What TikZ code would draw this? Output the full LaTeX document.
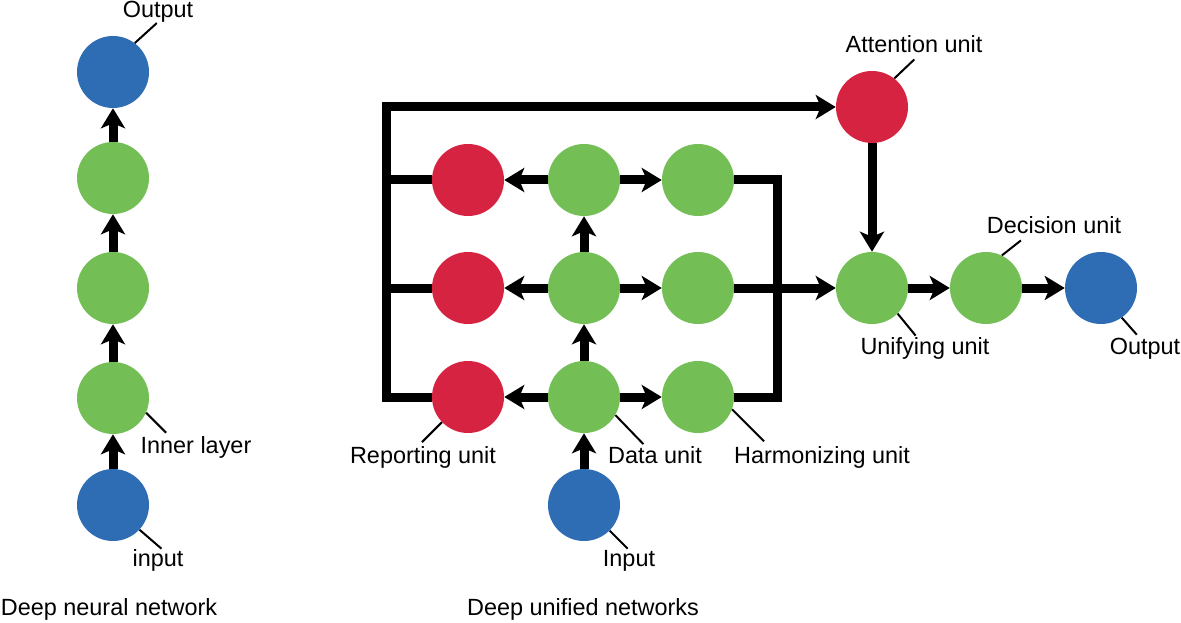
\documentclass[tikz,border=0pt]{standalone}
\usepackage{fontspec}
\setmainfont{Liberation Sans}
\usetikzlibrary{arrows.meta}

\definecolor{unitBlue}{RGB}{46,109,180}
\definecolor{unitGreen}{RGB}{115,190,85}
\definecolor{unitRed}{RGB}{214,35,66}

\tikzset{
	unit/.style={circle, minimum size=2.16cm, inner sep=0pt},
	blueUnit/.style={unit, fill=unitBlue},
	greenUnit/.style={unit, fill=unitGreen},
	redUnit/.style={unit, fill=unitRed},
	wire/.style={line width=0.27cm, line join=miter},
	flow/.style={wire, -{Stealth[length=0.6cm,width=0.72cm,inset=0.15cm]}},
	tick/.style={line width=0.06cm},
	lbl/.style={font=\fontsize{20}{24}\selectfont, anchor=base, inner sep=0pt},
}

\begin{document}
\begin{tikzpicture}[x=0.03cm, y=-0.03cm]
		\useasboundingbox (0,0) rectangle (1181,623);

		% deep neural network
		\node at (113,72)[blueUnit] (dnnOut) {};
		\node at (113,178)[greenUnit] (dnnL3) {};
		\node at (113,288)[greenUnit] (dnnL2) {};
		\node at (113,398)[greenUnit] (dnnL1) {};
		\node at (113,505)[blueUnit] (dnnIn) {};

		\draw[flow] (dnnIn) -- (dnnL1);
		\draw[flow] (dnnL1) -- (dnnL2);
		\draw[flow] (dnnL2) -- (dnnL3);
		\draw[flow] (dnnL3) -- (dnnOut);

		% deep unified networks
		\node at (468,180)[redUnit] (rep1) {};
		\node at (468,288)[redUnit] (rep2) {};
		\node at (468,397)[redUnit] (rep3) {};
		\node at (584,180)[greenUnit] (dat1) {};
		\node at (584,288)[greenUnit] (dat2) {};
		\node at (584,397)[greenUnit] (dat3) {};
		\node at (698,180)[greenUnit] (harm1) {};
		\node at (698,288)[greenUnit] (harm2) {};
		\node at (698,397)[greenUnit] (harm3) {};
		\node at (584,505)[blueUnit] (dunIn) {};
		\node at (872,107)[redUnit] (att) {};
		\node at (872,288)[greenUnit] (uni) {};
		\node at (986,288)[greenUnit] (dec) {};
		\node at (1101,288)[blueUnit] (dunOut) {};

		\coordinate (frameL) at (386,107);
		\coordinate (frameR) at (777,288);

		\draw[flow] (rep3.west) -| (frameL) -- (att.west);
		\draw[wire] (rep1.west) -- (rep1.west -| frameL);
		\draw[wire] (rep2.west) -- (rep2.west -| frameL);
		\draw[wire] (harm1.east) -| (frameR) |- (harm3.east);

		\foreach \row in {1,2,3}{
			\draw[flow] (dat\row) -- (rep\row);
			\draw[flow] (dat\row) -- (harm\row);
		}
		\draw[flow] (dunIn) -- (dat3);
		\draw[flow] (dat3) -- (dat2);
		\draw[flow] (dat2) -- (dat1);
		\draw[flow] (harm2) -- (uni);
		\draw[flow] (att) -- (uni);
		\draw[flow] (uni) -- (dec);
		\draw[flow] (dec) -- (dunOut);

		% labels
		\draw[tick] (dnnOut.53) -- ++(22,-20);
		\draw[tick] (dnnL1.-24) -- ++(20,20);
		\draw[tick] (dnnIn.-43) -- ++(22,19);
		\draw[tick] (rep3.-136) -- ++(-20,20);
		\draw[tick] (dat3.-30) -- ++(28,29);
		\draw[tick] (harm3.-20) -- ++(32,32);
		\draw[tick] (dunIn.-45) -- ++(18,18);
		\draw[tick] (att.52) -- ++(20,-19);
		\draw[tick] (dec.64) -- ++(19,-15);
		\draw[tick] (uni.-45) -- ++(18,22);
		\draw[tick] (dunOut.-55) -- ++(15,17);

		\node[lbl] (tOutL) at (158,18) {Output};
		\node[lbl] (tInner) at (196,453) {Inner layer};
		\node[lbl] (tinput) at (158,566) {input};
		\node[lbl] (tRep) at (423,463) {Reporting unit};
		\node[lbl] (tData) at (655,463) {Data unit};
		\node[lbl] (tHarm) at (822,463) {Harmonizing unit};
		\node[lbl] (tIn) at (629,566) {Input};
		\node[lbl] (tAtt) at (914,53) {Attention unit};
		\node[lbl] (tDec) at (1054,233) {Decision unit};
		\node[lbl] (tUni) at (925,354) {Unifying unit};
		\node[lbl] (tOutR) at (1145,354) {Output};
		\node[lbl] (tDnn) at (109,615) {Deep neural network};
		\node[lbl] (tDun) at (583,615) {Deep unified networks};
\end{tikzpicture}
\end{document}
